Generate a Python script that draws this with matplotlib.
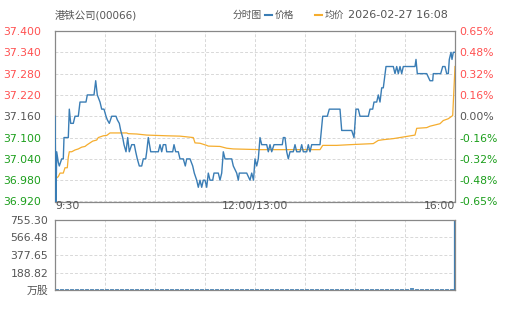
import matplotlib
matplotlib.use('Agg')
import matplotlib.pyplot as plt
from matplotlib.lines import Line2D

plt.rcParams['font.family'] = ['DejaVu Sans', 'Noto Sans CJK SC']

# --- data ---
PREV_CLOSE = 37.16
TITLE = '港铁公司(00066)'
STAMP = '2026-02-27 16:08'
N_SLOTS = 400  # sample index across the session, 12:00/13:00 in the middle

price_t = [0, 1, 1.7, 3.3, 4.3, 6.7, 8.3, 9, 13.3, 14.3, 15.7, 18.3, 20, 23.3, 25, 31, 32.3, 39,
           40.7, 42.3, 45, 46.7, 49, 51, 52.3, 54.3, 56.7, 61, 62.3, 64.3, 65.7, 67.7, 69, 71,
           72.7, 74.3, 76.7, 79.3, 80.7, 82.3, 84.3, 86.7, 88.3, 90.7, 91.7, 93.3, 95.7, 103.3,
           105, 106.7, 108.3, 110.7, 111.7, 117.7, 119, 120.7, 123.3, 125, 128.3, 130.3, 131.7,
           135, 137.7, 139.3, 141.7, 143.3, 145, 146.7, 148.3, 150, 151.7, 153.3, 155, 157.7,
           159, 163.3, 165, 166.7, 168.3, 170, 176.7, 178.3, 181.7, 183.3, 184.3, 191.7, 195,
           196.7, 198.5, 200, 201.7, 203.3, 205, 206.7, 211.7, 213.3, 215, 216.7, 219, 227.3,
           228.3, 230, 231.7, 233.3, 235, 238.3, 240, 241.7, 245, 246.7, 248.3, 251.7, 253.3,
           255, 256.7, 265, 267.7, 272.3, 274.3, 285, 286.7, 296.7, 299, 301, 303.3, 305, 313.3,
           315, 317.7, 319, 321.7, 323.3, 325, 326.7, 328.3, 331, 338.3, 340, 341.7, 343.3, 345,
           346.7, 348.3, 360, 361, 362.3, 371.7, 373.3, 375, 377.7, 378.3, 385.7, 387.7, 390,
           391.7, 393.3, 394.3, 396, 397, 398.3, 400]
price = [37.16, 36.92, 37.06, 37.03, 37.02, 37.04, 37.04, 37.10, 37.10, 37.18, 37.14, 37.14, 37.16,
         37.16, 37.20, 37.20, 37.22, 37.22, 37.26, 37.22, 37.20, 37.18, 37.18, 37.16, 37.15,
         37.14, 37.16, 37.16, 37.15, 37.14, 37.12, 37.10, 37.08, 37.06, 37.10, 37.06, 37.08,
         37.08, 37.06, 37.04, 37.02, 37.02, 37.04, 37.04, 37.06, 37.10, 37.06, 37.06, 37.08,
         37.06, 37.08, 37.08, 37.06, 37.06, 37.08, 37.06, 37.06, 37.04, 37.04, 37.02, 37.04,
         37.04, 37.02, 37.00, 36.98, 36.96, 36.98, 36.96, 36.98, 36.98, 36.96, 37.00, 36.98,
         36.98, 37.00, 37.00, 36.98, 37.00, 37.06, 37.04, 37.04, 37.02, 37.00, 36.98, 37.00,
         37.00, 36.98, 37.00, 36.98, 37.04, 37.02, 37.04, 37.10, 37.08, 37.08, 37.06, 37.08,
         37.06, 37.08, 37.08, 37.10, 37.10, 37.06, 37.04, 37.06, 37.06, 37.08, 37.06, 37.06,
         37.08, 37.06, 37.06, 37.08, 37.06, 37.08, 37.08, 37.16, 37.16, 37.18, 37.18, 37.12,
         37.12, 37.10, 37.18, 37.18, 37.16, 37.16, 37.18, 37.18, 37.20, 37.20, 37.22, 37.20,
         37.24, 37.24, 37.30, 37.30, 37.28, 37.30, 37.28, 37.30, 37.28, 37.30, 37.30, 37.32,
         37.28, 37.28, 37.27, 37.26, 37.26, 37.28, 37.28, 37.30, 37.30, 37.28, 37.28, 37.32,
         37.34, 37.32, 37.34, 37.34]

avg_t = [1, 3.3, 5, 8.3, 10, 12.3, 13.3, 14.3, 16.7, 20, 23.3, 26.7, 30, 32.3, 35, 37.7, 41.7,
         43.3, 48.3, 51.7, 55, 71.7, 73.3, 81.7, 91.7, 111.7, 125, 138.3, 140, 145, 151.7,
         153.3, 165, 171.7, 178.3, 205, 265, 267.7, 281.7, 295, 318.3, 323.3, 328.3, 338.3,
         360, 361.7, 371.7, 375, 385, 388.3, 393.3, 397.7, 400]
avg = [36.985, 36.99, 37.00, 37.00, 37.015, 37.015, 37.045, 37.06, 37.06, 37.065, 37.068,
       37.073, 37.075, 37.08, 37.085, 37.09, 37.093, 37.10, 37.105, 37.106, 37.113, 37.113,
       37.111, 37.11, 37.107, 37.105, 37.104, 37.10, 37.085, 37.084, 37.078, 37.076, 37.075,
       37.07, 37.068, 37.066, 37.066, 37.078, 37.078, 37.08, 37.083, 37.092, 37.094, 37.097,
       37.107, 37.126, 37.128, 37.132, 37.139, 37.148, 37.153, 37.162, 37.30]

vol_t = list(range(2, 400, 5)) + [400]
vol = [9, 8, 7, 9, 6, 8, 7, 9, 8, 6, 7, 8, 9, 7, 6, 8, 7, 8, 6, 7,
       8, 7, 6, 8, 7, 6, 7, 8, 6, 7, 7, 6, 8, 7, 6, 7, 8, 6, 7, 6,
       7, 8, 6, 7, 6, 8, 7, 6, 7, 8, 6, 7, 8, 6, 7, 6, 8, 7, 6, 7,
       8, 7, 6, 8, 7, 6, 7, 8, 6, 7, 7, 18, 7, 6, 8, 7, 6, 7, 8, 9, 755.30]

price_ticks = [36.92, 36.98, 37.04, 37.10, 37.16, 37.22, 37.28, 37.34, 37.40]
vol_ticks = [0, 188.82, 377.65, 566.48, 755.30]
vol_unit = '万股'
x_labels = ['9:30', '12:00/13:00', '16:00']

BLUE = '#3a7db5'
ORANGE = '#f5ad2e'
RED = '#ff5050'
GREEN = '#1a9e1a'
GRAY = '#555555'
GRID = '#d8d8d8'
SPINE = '#888888'


def tick_color(p):
    if round(p, 3) > PREV_CLOSE:
        return RED
    if round(p, 3) < PREV_CLOSE:
        return GREEN
    return GRAY


def style_axes(ax):
    for s in ax.spines.values():
        s.set_color(SPINE)
        s.set_linewidth(0.9)
    ax.set_xlim(0, N_SLOTS)
    ax.set_xticks([N_SLOTS * i / 8 for i in range(9)])
    ax.grid(True, color=GRID, linestyle=(0, (3, 2)), linewidth=0.7)
    ax.tick_params(length=0)


fig = plt.figure(figsize=(5.05, 3.10), dpi=100)

# --- price panel ---
ax = fig.add_axes([55 / 505, 108.5 / 310, 400 / 505, 170.5 / 310])
style_axes(ax)
ax.plot(price_t, price, color=BLUE, lw=1.0, zorder=3)
ax.plot(avg_t, avg, color=ORANGE, lw=0.9, zorder=2)
ax.set_ylim(price_ticks[0], price_ticks[-1])
ax.set_yticks(price_ticks)
ax.set_yticklabels([f'{p:.3f}' for p in price_ticks], fontsize=7.8)
for lab, p in zip(ax.get_yticklabels(), price_ticks):
    lab.set_color(tick_color(p))
ax.tick_params(axis='y', pad=10)
ax.set_xticklabels([])
for lab, x, ha in zip(x_labels, [0, N_SLOTS / 2, N_SLOTS], ['left', 'center', 'right']):
    ax.text(x, price_ticks[0], lab, ha=ha, va='top', fontsize=7.8, color=GRAY,
            transform=ax.transData)

ax2 = ax.twinx()
ax2.set_ylim(ax.get_ylim())
ax2.set_yticks(price_ticks)
ax2.set_yticklabels([f'{(p - PREV_CLOSE) / PREV_CLOSE * 100:.2f}%' for p in price_ticks],
                    fontsize=7.8)
for lab, p in zip(ax2.get_yticklabels(), price_ticks):
    lab.set_color(tick_color(p))
ax2.tick_params(length=0, pad=3)
for s in ax2.spines.values():
    s.set_visible(False)

# --- volume panel ---
axv = fig.add_axes([55 / 505, 20 / 310, 400 / 505, 70 / 310])
style_axes(axv)
axv.vlines(vol_t[:-1], 0, vol[:-1], color=BLUE, lw=2.8, alpha=0.85)
axv.vlines(vol_t[-1:], 0, vol[-1:], color=BLUE, lw=1.6)
axv.set_ylim(0, vol_ticks[-1])
axv.set_yticks(vol_ticks)
axv.set_yticklabels([vol_unit] + [f'{v:.2f}' for v in vol_ticks[1:]], fontsize=7.8, color=GRAY)
axv.tick_params(axis='y', pad=5)
axv.set_xticklabels([])

# --- header ---
ty = 1 - 15 / 310
fig.text(55 / 505, ty, TITLE, fontsize=7.5, color=GRAY, va='center')
fig.text(262 / 505, ty, '分时图', fontsize=7, color=GRAY, va='center', ha='right')
fig.add_artist(Line2D([265 / 505, 272 / 505], [ty, ty], color=BLUE, lw=1.5))
fig.text(275 / 505, ty, '价格', fontsize=7, color=GRAY, va='center')
fig.add_artist(Line2D([315 / 505, 322 / 505], [ty, ty], color=ORANGE, lw=1.5))
fig.text(325 / 505, ty, '均价', fontsize=7, color=GRAY, va='center')
fig.text(348 / 505, ty, STAMP, fontsize=8, color=GRAY, va='center')

fig.savefig('out.png', dpi=100)
